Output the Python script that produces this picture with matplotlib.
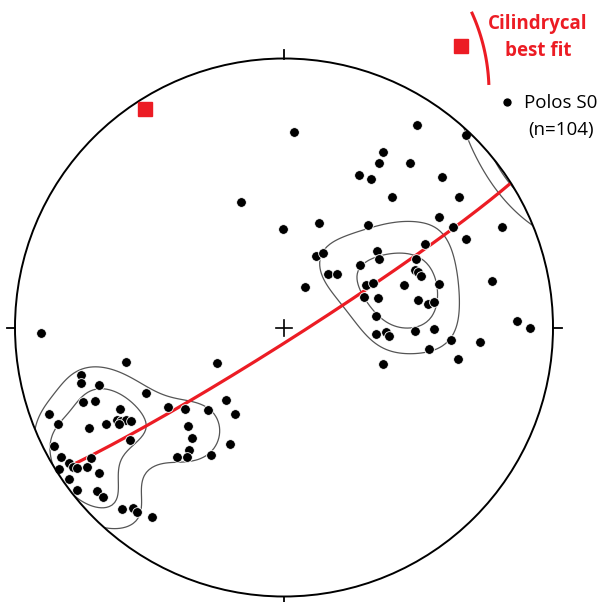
import numpy as np
import matplotlib
matplotlib.use("Agg")
import matplotlib.pyplot as plt
from matplotlib.patches import Circle

# Poles to bedding S0, lower-hemisphere equal-area (Schmidt) net.
# x = east, y = north, primitive circle radius = 1.
pole_x = [
    # SW cluster
    -0.587, -0.250, -0.754, -0.756, -0.688, -0.513, -0.746, -0.701, -0.875, -0.430,
    -0.367, -0.609, -0.216, -0.281, -0.182, -0.840, -0.725, -0.663, -0.622, -0.607,
    -0.587, -0.570, -0.615, -0.358, -0.343, -0.574, -0.854, -0.201, -0.353, -0.359,
    -0.399, -0.272, -0.830, -0.798, -0.783, -0.771, -0.717, -0.835, -0.733, -0.688,
    -0.800, -0.768, -0.696, -0.674, -0.603, -0.560, -0.545, -0.490, -0.903,
    # NE cluster
    0.038, 0.493, 0.675, 0.367, 0.354, 0.468, 0.279, 0.322, 0.587, 0.400,
    0.652, 0.129, 0.313, 0.575, -0.005, 0.627, 0.812, 0.677, 0.524, 0.118,
    0.146, 0.345, 0.354, 0.491, 0.283, 0.165, 0.198, 0.487, 0.498, 0.509,
    0.078, 0.305, 0.330, 0.446, 0.577, 0.774, 0.297, 0.351, 0.498, 0.535,
    0.558, 0.341, 0.865, 0.914, 0.342, 0.379, 0.391, 0.487, 0.557, 0.622,
    0.730, 0.540, 0.648, 0.369, -0.161,
]
pole_y = [
    # SW cluster
    -0.129, -0.133, -0.177, -0.207, -0.214, -0.242, -0.276, -0.274, -0.322, -0.296,
    -0.303, -0.302, -0.271, -0.307, -0.320, -0.360, -0.374, -0.358, -0.344, -0.348,
    -0.344, -0.348, -0.360, -0.365, -0.412, -0.419, -0.441, -0.434, -0.457, -0.483,
    -0.480, -0.474, -0.483, -0.503, -0.517, -0.523, -0.486, -0.525, -0.517, -0.542,
    -0.564, -0.605, -0.607, -0.631, -0.675, -0.672, -0.685, -0.703, -0.020,
    # NE cluster
    0.726, 0.753, 0.716, 0.654, 0.610, 0.613, 0.566, 0.552, 0.561, 0.486,
    0.484, 0.390, 0.381, 0.412, 0.365, 0.372, 0.375, 0.328, 0.309, 0.267,
    0.278, 0.285, 0.254, 0.255, 0.232, 0.198, 0.199, 0.214, 0.206, 0.191,
    0.151, 0.158, 0.164, 0.158, 0.162, 0.173, 0.114, 0.109, 0.102, 0.088,
    0.095, 0.043, 0.025, -0.003, -0.024, -0.016, -0.032, -0.012, -0.004, -0.046,
    -0.055, -0.079, -0.118, -0.137, 0.465,
]

# Cylindrical best fit: beta axis (trend, plunge in degrees)
beta_trend = 327.5
beta_plunge = 4.0

# Density contour levels (multiples of sigma, exponential Kamb)
kamb_sigma = 2.5
contour_levels = [6.0, 9.0]

fit_label = ["Cilindrycal", "best fit"]
pole_label = ["Polos S0", "(n=%d)" % len(pole_x)]

RED = "#ec1c24"
W, H = 605, 602
R_PX = 269.0
CX, CY = 284.0, 327.5


def net_to_vec(x, y):
    """Equal-area net point -> unit vector (east, north, down)."""
    x = np.asarray(x, float)
    y = np.asarray(y, float)
    r2 = x ** 2 + y ** 2
    f = np.sqrt(np.clip(2.0 - r2, 0.0, None))
    return np.stack([x * f, y * f, 1.0 - r2], axis=-1)


def vec_to_net(v):
    v = np.where(v[..., 2:3] < 0, -v, v)
    f = 1.0 / np.sqrt(1.0 + v[..., 2])
    return v[..., 0] * f, v[..., 1] * f


def line_vec(trend, plunge):
    t, p = np.radians(trend), np.radians(plunge)
    return np.array([np.sin(t) * np.cos(p), np.cos(t) * np.cos(p), np.sin(p)])


fig = plt.figure(figsize=(W / 100, H / 100), dpi=100)
ax = fig.add_axes([0, 0, 1, 1])
ax.set_xlim(-CX / R_PX, (W - CX) / R_PX)
ax.set_ylim(-(H - CY) / R_PX, CY / R_PX)
ax.axis("off")

# Exponential Kamb density of the poles (axial data)
poles = net_to_vec(pole_x, pole_y)
n = len(pole_x)
k = 2.0 * (1.0 + n / kamb_sigma ** 2)
g = np.linspace(-1.1, 1.1, 221)
gx, gy = np.meshgrid(g, g)
gv = net_to_vec(gx, gy)
gv /= np.linalg.norm(gv, axis=-1, keepdims=True)
cosd = np.abs(gv @ poles.T)
units = np.sqrt(n * (k / 2.0 - 1.0) / k ** 2)
dens = np.exp(k * (cosd - 1.0)).sum(axis=-1) / units

prim = Circle((0, 0), 1.0, fill=False, lw=1.4, color="black", zorder=5)
ax.add_patch(prim)
clip = Circle((0, 0), 1.0, transform=ax.transData, fill=False)
cs = ax.contour(gx, gy, dens, levels=contour_levels, colors="#555555",
                linewidths=0.9, zorder=2)
cs.set_clip_path(clip)

# Girdle (great circle whose pole is beta)
b = line_vec(beta_trend, beta_plunge)
s = line_vec(beta_trend + 90.0, 0.0)
d = np.cross(b, s)
if d[2] < 0:
    d = -d
t = np.radians(np.linspace(0.0, 172.0, 300))
gc = np.outer(np.cos(t), s) + np.outer(np.sin(t), d)
gcx, gcy = vec_to_net(gc)
ax.plot(gcx, gcy, color=RED, lw=2.3, solid_capstyle="butt", zorder=3)

# Poles
ax.plot(pole_x, pole_y, "o", ms=7.0, mfc="black", mec="white", mew=0.6,
        ls="none", zorder=4)

# Beta axis
bx, by = vec_to_net(b)
ax.plot([bx], [by], "s", ms=10.5, mfc=RED, mec=RED, zorder=6)

# Cardinal ticks and centre cross
tk = 8.5 / R_PX
cr = 8.0 / R_PX
for ang in (0, 90, 180, 270):
    a = np.radians(ang)
    ax.plot([np.sin(a), np.sin(a) * (1 + tk)], [np.cos(a), np.cos(a) * (1 + tk)],
            color="black", lw=1.3, zorder=5)
ax.plot([-cr, cr], [0, 0], color="black", lw=1.2, zorder=5)
ax.plot([0, 0], [-cr, cr], color="black", lw=1.2, zorder=5)


def fpx(px, py):
    return px / W, 1.0 - py / H


# Legend: best-fit great circle symbol
th = np.radians(np.linspace(-24.7, -2.1, 60))
ax_px = 297.0 + 192.0 * np.cos(th)
ay_px = 92.0 + 192.0 * np.sin(th)
fig.lines.append(plt.Line2D(ax_px / W, 1.0 - ay_px / H, transform=fig.transFigure,
                            color=RED, lw=2.2, solid_capstyle="butt"))
fig.lines.append(plt.Line2D([461 / W], [1 - 46 / H], transform=fig.transFigure,
                            marker="s", ms=10.5, mfc=RED, mec=RED, ls="none"))
for line, yb in zip(fit_label, (28.5, 55.5)):
    fig.text(*fpx(538, yb), line, color=RED, fontsize=13.5, fontweight="bold",
             family="Open Sans", ha="center", va="baseline")

# Legend: poles
fig.lines.append(plt.Line2D([507 / W], [1 - 102 / H], transform=fig.transFigure,
                            marker="o", ms=7.0, mfc="black", mec="white", ls="none"))
for line, yb in zip(pole_label, (108, 135)):
    fig.text(*fpx(561, yb), line, color="black", fontsize=13.5,
             family="Open Sans", ha="center", va="baseline")

fig.savefig("out.png", dpi=100, facecolor="white")
